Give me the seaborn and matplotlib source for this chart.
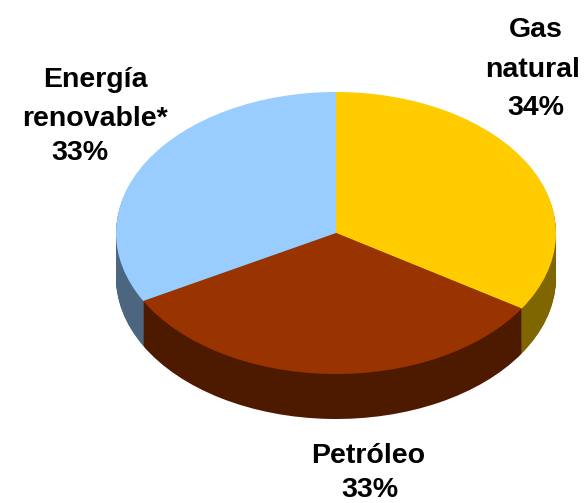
import matplotlib
matplotlib.use('Agg')
import numpy as np
import seaborn as sns
import matplotlib.pyplot as plt

sources = [['Gas', 'natural'], ['Petróleo'], ['Energía', 'renovable*']]
shares = [34, 33, 33]
top_colors = ['#FFCC00', '#993300', '#99CCFF']
side_colors = ['#806600', '#4D1A00', '#4D6680']

sns.set_theme(style='white')
plt.rcParams['font.family'] = ['Liberation Sans', 'DejaVu Sans']

W, H = 588, 503
cx, cy = 336, 233
rx, ry = 220, 141
depth = 45

fig = plt.figure(figsize=(W / 100, H / 100), dpi=100)
ax = fig.add_axes([0, 0, 1, 1])

# stack of dark pies for the side, then the top
for d in range(depth, 0, -1):
    ax.pie(shares, colors=side_colors, startangle=90, counterclock=False,
           center=(0, -d / ry), wedgeprops={'linewidth': 0})
ax.pie(shares, colors=top_colors, startangle=90, counterclock=False,
       wedgeprops={'linewidth': 0})

ax.set_aspect('auto')
ax.set_xlim(-cx / rx, (W - cx) / rx)
ax.set_ylim(-(H - cy) / ry, cy / ry)
ax.axis('off')

# line centres and baselines in pixels from the top left, the lines are not
# quite centred on each other in the original
line_pos = [[(536, 37), (533, 77), (536, 115)],
            [(368, 463), (370, 497)],
            [(95, 87), (95, 126), (80, 160)]]
for src, val, pos in zip(sources, shares, line_pos):
    for line, (x, y) in zip(src + [f'{val}%'], pos):
        ax.text(x / W, 1 - y / H, line, transform=ax.transAxes,
                ha='center', va='baseline', fontsize=20.5, fontweight='bold',
                color='black')

fig.savefig('out.png', dpi=100)
